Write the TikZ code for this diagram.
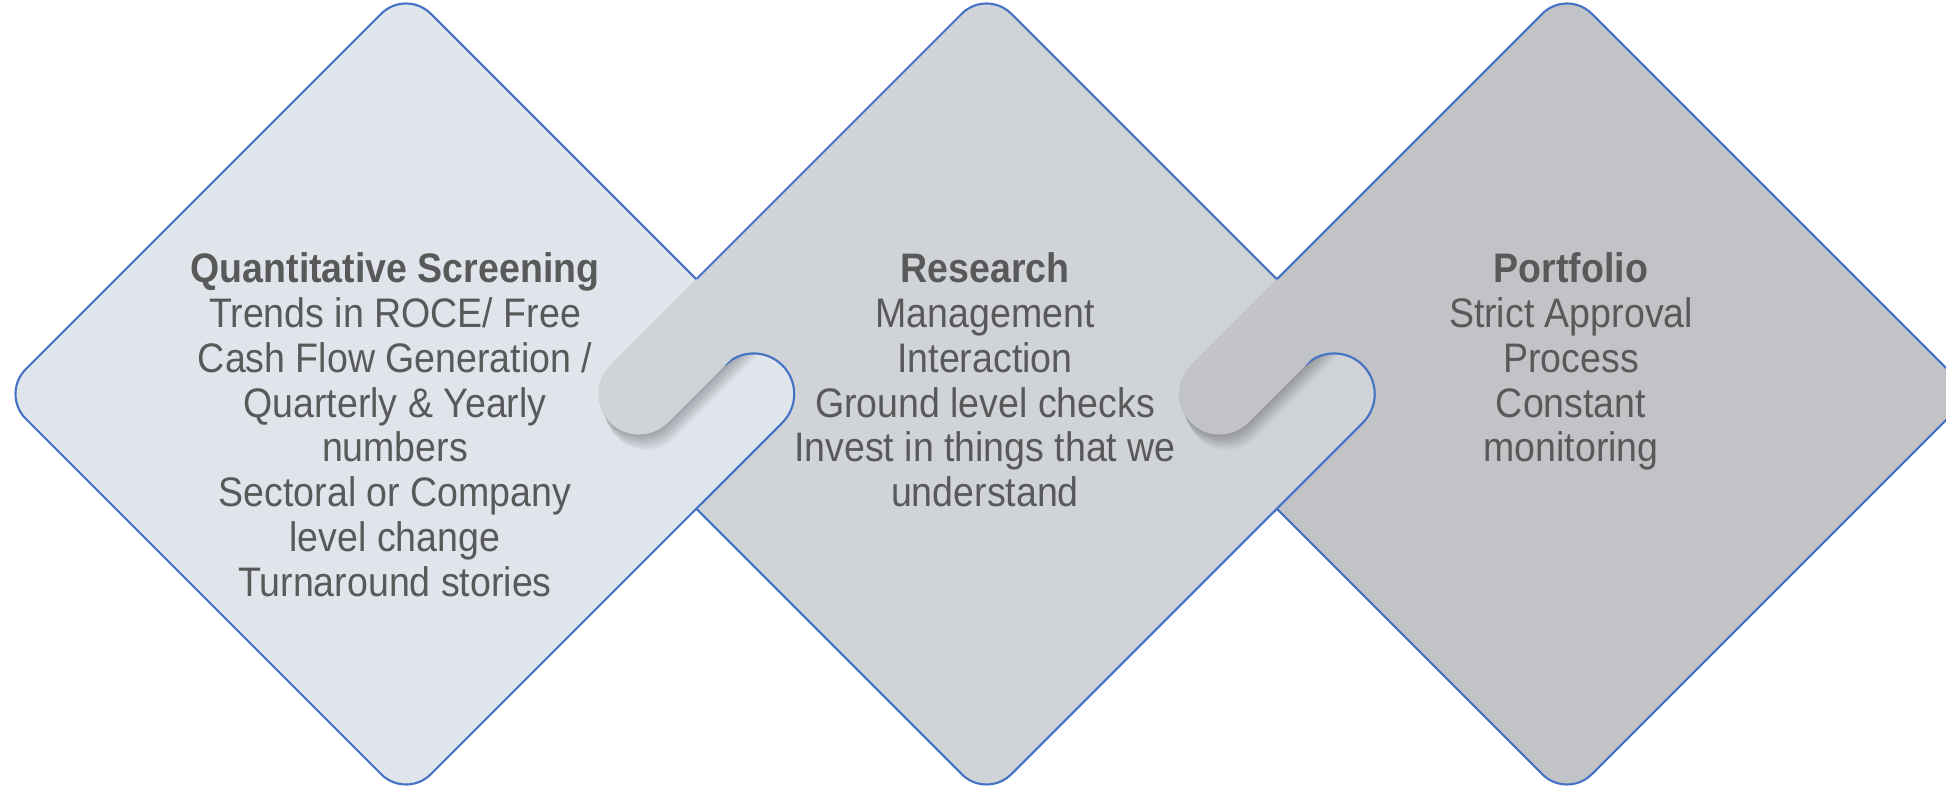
\documentclass[tikz,border=0pt]{standalone}
\usepackage{fontspec}
\setmainfont{Liberation Sans}
\definecolor{dA}{HTML}{E0E5EC}
\definecolor{dB}{HTML}{D0D3D8}
\definecolor{dC}{HTML}{C2C3C7}
\definecolor{edgeblue}{HTML}{4472C4}
\definecolor{txt}{HTML}{595959}
% one interlock between a left diamond (colour #2) and a right diamond (colour #3), shifted by #1 px
\newcommand{\linkpair}[3]{%
\begin{scope}[shift={(#1,0)}]
  % tongue of the left diamond, lying over the right one
  \fill[#2] (575,395) -- (692.5,512.5) -- (782.32,422.69)
        arc[start angle=45,end angle=-135,radius=40.57]
        -- (667.56,422.69) -- (607.4,362.6) -- cycle;
  % soft shadow of the tongue of the right diamond, only on the light tongue
  \begin{scope}
    \clip (575,395) -- (692.5,512.5) -- (782.32,422.69)
        arc[start angle=45,end angle=-135,radius=40.57]
        -- (667.56,422.69) -- (607.4,362.6) -- cycle;
    \foreach \k in {1,...,12}{
      \fill[black,opacity=0.022,shift={(0.6*\k,1.3*\k)}] (610.25,365.31)
          arc[start angle=225,end angle=45,radius=40.57]
          -- (753.6,336.6) -- (696.25,279.25) -- cycle;}
  \end{scope}
  \draw[edgeblue,line width=0.6pt] (692.5,512.5) -- (782.32,422.69)
        arc[start angle=45,end angle=-135,radius=40.57];
  % tongue of the right diamond, lying over the left one
  \fill[#3] (610.25,365.31) arc[start angle=225,end angle=45,radius=40.57]
        -- (753.6,336.6) -- (696.25,279.25) -- cycle;
\end{scope}}
\begin{document}
\begin{tikzpicture}[x=0.01cm,y=-0.01cm,
  outl/.style={draw=edgeblue,line width=0.6pt,rounded corners=0.35cm},
  lbl/.style={anchor=north,inner sep=0pt,text=txt,
              font=\fontsize{10.67pt}{11.56pt}\selectfont}]
\clip (0,0) rectangle (1946,786);
\fill[white] (0,0) rectangle (1946,786);
% diamond 1
\path[fill=dA,outl] (203.5,191.5) -- (406,-11) -- (811,394) -- (406,799) -- (1,394) -- cycle;
% diamond 2
\fill[dB,rounded corners=0.35cm] (784,191.5) -- (986.5,-11) -- (1391.5,394) -- (986.5,799) -- (581.5,394) -- cycle;
\draw[outl] (696.25,279.25) -- (986.5,-11) -- (1391.5,394) -- (986.5,799) -- (696.25,508.75);
\linkpair{0}{dA}{dB}
% diamond 3
\fill[dC,rounded corners=0.35cm] (1364.5,191.5) -- (1567,-11) -- (1972,394) -- (1567,799) -- (1162,394) -- cycle;
\draw[outl] (1276.75,279.25) -- (1567,-11) -- (1972,394) -- (1567,799) -- (1276.75,508.75);
\linkpair{580.5}{dB}{dC}
% texts
\node[lbl] (t1) at (395,251) {\scalebox{1}[1.1]{\begin{tabular}{@{}c@{}}\textbf{Quantitative Screening}\\Trends in ROCE/ Free\\Cash Flow Generation /\\Quarterly \& Yearly\\numbers\\Sectoral or Company\\level change\\Turnaround stories\end{tabular}}};
\node[lbl] (t2) at (985,251) {\scalebox{1}[1.1]{\begin{tabular}{@{}c@{}}\textbf{Research}\\Management\\Interaction\\Ground level checks\\Invest in things that we\\understand\end{tabular}}};
\node[lbl] (t3) at (1571,251) {\scalebox{1}[1.1]{\begin{tabular}{@{}c@{}}\textbf{Portfolio}\\Strict Approval\\Process\\Constant\\monitoring\end{tabular}}};
\end{tikzpicture}
\end{document}
